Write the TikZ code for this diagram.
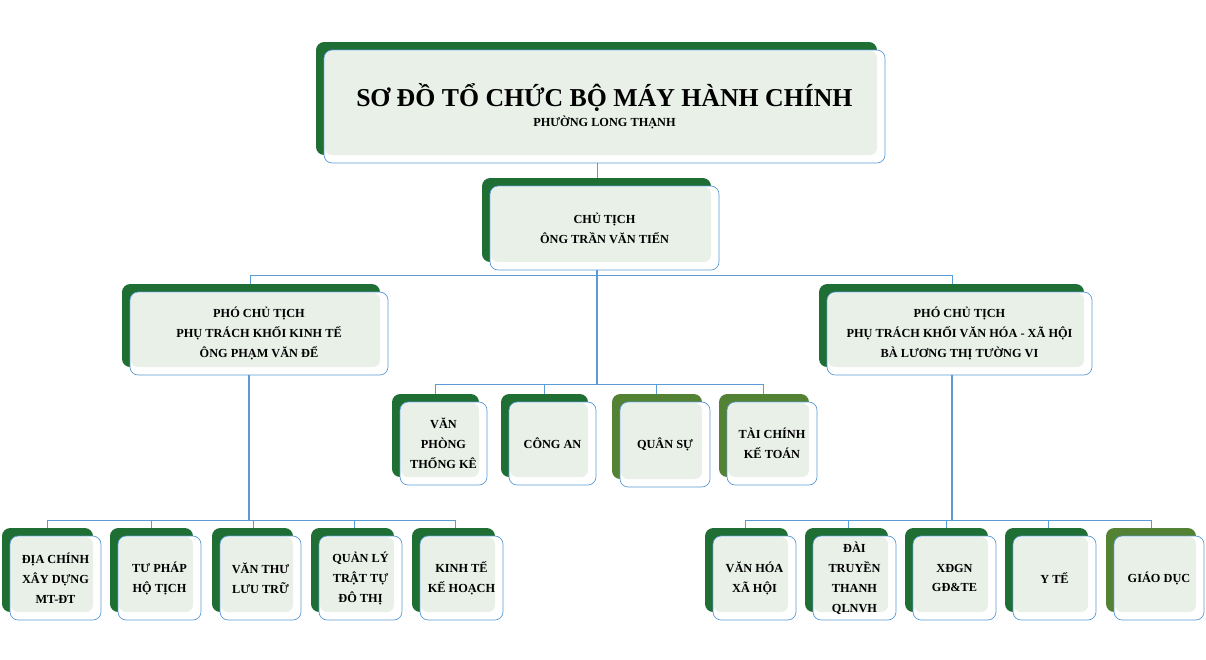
\documentclass[tikz,border=0pt]{standalone}
\usepackage{fontspec}
\setmainfont{Liberation Serif}
\usetikzlibrary{positioning}
\definecolor{darkleaf}{HTML}{1F6E33}
\definecolor{oliveleaf}{HTML}{548235}
\definecolor{paleleaf}{HTML}{E8F0E8}
\definecolor{linkblue}{HTML}{5B9BD5}
\newcommand{\unitbox}[7]{%
  \fill[#6,rounded corners=7pt] (#2-8,#3-8) rectangle (#4-8,#5-8);
  \fill[white,rounded corners=7pt] (#2,#3) rectangle (#4,#5);
  \fill[paleleaf,rounded corners=6pt] (#2+1,#3+1) rectangle (#4-8,#5-8);
  \node[unit node,minimum width={(#4-#2)*0.03cm},minimum height={(#5-#3)*0.03cm}]
    (#1) at ({(#2+#4)/2},{(#3+#5)/2}) {#7};}
\begin{document}
\begin{tikzpicture}[x=0.03cm,y=-0.03cm,
    unit node/.style={draw=linkblue,rounded corners=7pt,line width=0.6pt,align=center,
      font=\fontsize{10.5}{17}\selectfont\bfseries,inner sep=1pt},
    thin link/.style={draw=linkblue,line width=0.7pt},
    thick link/.style={draw=linkblue,line width=1.6pt}]
  \useasboundingbox (0,0) rectangle (1206,659);
  % boxes
  \unitbox{title}{324}{50}{885}{163}{darkleaf}{\fontsize{22}{36}\selectfont S\kern-.02emƠ ĐỒ TỔ CHỨC BỘ MÁY HÀNH CHÍNH\\PHƯỜNG LONG THẠNH}
  \unitbox{ct}{490}{186}{719}{270}{darkleaf}{CHỦ TỊCH\\ÔNG TRẦN VĂN TIẾN}
  \unitbox{pctkt}{130}{292}{388}{375}{darkleaf}{PHÓ CHỦ TỊCH\\PHỤ TRÁCH KHỐI KINH TẾ\\ÔNG PHẠM VĂN ĐỂ}
  \unitbox{pctvh}{827}{292}{1092}{375}{darkleaf}{PHÓ CHỦ TỊCH\\PHỤ TRÁCH KHỐI VĂN HÓA - XÃ HỘI\\BÀ LƯƠNG THỊ TƯỜNG VI}
  % middle row
  \unitbox{vp}{400}{402}{487}{485}{darkleaf}{VĂN\\PHÒNG\\THỐNG KÊ}
  \unitbox{ca}{509}{402}{596}{485}{darkleaf}{CÔNG AN}
  \unitbox{qs}{620}{402}{710}{487}{oliveleaf}{QUÂN SỰ}
  \unitbox{tc}{727}{402}{817}{485}{oliveleaf}{TÀI CHÍNH\\KẾ TOÁN}
  % bottom left
  \unitbox{dc}{10}{536}{101}{620}{darkleaf}{ĐỊA CHÍNH\\XÂY DỰNG\\MT-ĐT}
  \unitbox{tp}{118}{536}{201}{620}{darkleaf}{TƯ PHÁP\\HỘ TỊCH}
  \unitbox{vt}{220}{536}{301}{620}{darkleaf}{VĂN THƯ\\LƯU TRỮ}
  \unitbox{ql}{319}{536}{402}{620}{darkleaf}{QUẢN LÝ\\TRẬT TỰ\\ĐÔ THỊ}
  \unitbox{kt}{420}{536}{503}{620}{darkleaf}{KINH TẾ\\KẾ HOẠCH}
  % bottom right
  \unitbox{vh}{713}{536}{796}{620}{darkleaf}{VĂN HÓA\\XÃ HỘI}
  \unitbox{dt}{813}{536}{896}{620}{darkleaf}{ĐÀI\\TRUYỀN\\THANH\\QLNVH}
  \unitbox{xd}{913}{536}{996}{620}{darkleaf}{XĐGN\\GĐ\&TE}
  \unitbox{yt}{1013}{536}{1096}{620}{darkleaf}{Y TẾ}
  \unitbox{gd}{1114}{536}{1204}{620}{oliveleaf}{GIÁO DỤC}
  % links
  \coordinate (topbus) at (597,275);
  \coordinate (midbus) at (597,384);
  \coordinate (ktbus) at (249,520);
  \coordinate (vhbus) at (952,520);
  \draw[thin link] (title.south -| topbus) -- ++(0,15);
  \draw[thin link] (250,284) -- (250,275) -- (952,275) -- (952,284);
  \draw[thick link] (ct.south -| topbus) -- (midbus);
  \draw[thin link] (435,394) -- (435,384) -- (763,384) -- (763,394);
  \foreach \x in {544,656} \draw[thin link] (\x,384) -- (\x,394);
  \draw[thick link] (pctkt.south -| ktbus) -- (ktbus);
  \draw[thin link] (47,528) -- (47,520) -- (455,520) -- (455,528);
  \foreach \x in {151,253,354} \draw[thin link] (\x,520) -- (\x,528);
  \draw[thick link] (pctvh.south -| vhbus) -- (vhbus);
  \draw[thin link] (745,528) -- (745,520) -- (1151,520) -- (1151,528);
  \foreach \x in {848,946,1048} \draw[thin link] (\x,520) -- (\x,528);
\end{tikzpicture}
\end{document}
